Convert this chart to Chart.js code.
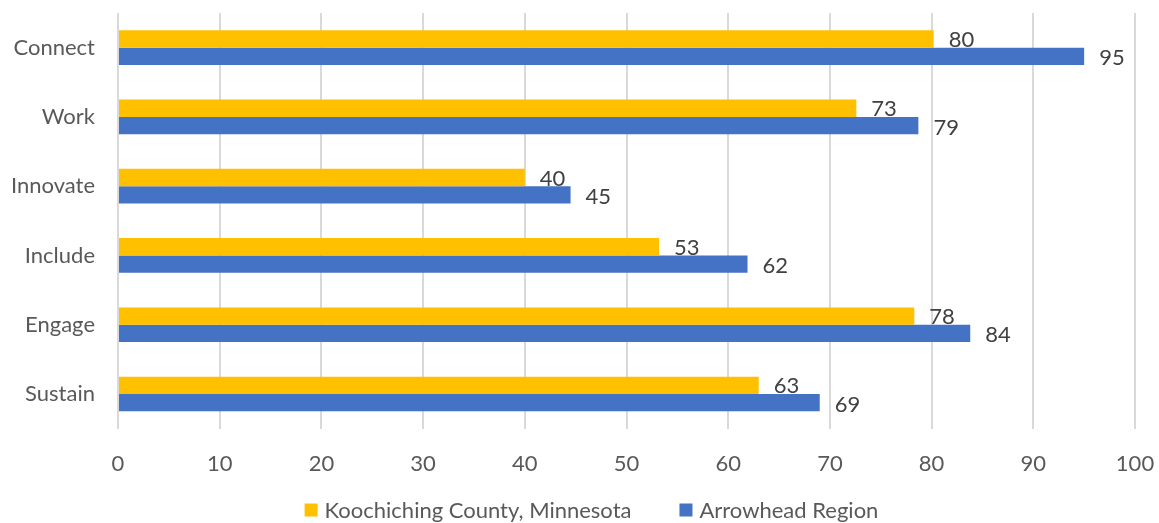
<!DOCTYPE html>
<html>
<head>
<meta charset="utf-8">
<script src="https://cdn.jsdelivr.net/npm/chart.js@4/dist/chart.umd.min.js"></script>
<style>
  html, body { margin: 0; padding: 0; background: #fff; }
  #wrap { width: 1159px; height: 523px; }
</style>
</head>
<body>
<div id="wrap"><canvas id="chart" width="1159" height="523"></canvas></div>
<script>
const categories = ["Connect", "Work", "Innovate", "Include", "Engage", "Sustain"];
const koochiching = [80.2, 72.6, 40.0, 53.2, 78.3, 63.0];
const arrowhead = [95.0, 78.7, 44.5, 61.9, 83.8, 69.0];
const xTicks = [0, 10, 20, 30, 40, 50, 60, 70, 80, 90, 100];

const FONT = "Lato, 'Open Sans', sans-serif";
const SIZE = 22;
const TEXT = "#595959";

// draws the value at the end of each bar
const barLabels = {
  id: "barLabels",
  afterDatasetsDraw(chart) {
    const ctx = chart.ctx;
    ctx.save();
    ctx.font = SIZE + "px " + FONT;
    ctx.fillStyle = "#404040";
    ctx.textBaseline = "middle";
    ctx.textAlign = "left";
    chart.data.datasets.forEach((ds, i) => {
      const meta = chart.getDatasetMeta(i);
      meta.data.forEach((bar, j) => {
        const dy = i === 0 ? 1 : 2;
        ctx.fillText(Math.round(ds.data[j]), bar.x + 15, bar.y + dy);
      });
    });
    ctx.restore();
  }
};

// legend under the x axis, like the office chart
const bottomLegend = {
  id: "bottomLegend",
  afterDraw(chart) {
    const ctx = chart.ctx;
    const y = 510;
    const box = 13, gap = 7, between = 48;
    ctx.save();
    ctx.font = SIZE + "px " + FONT;
    ctx.textBaseline = "middle";
    ctx.textAlign = "left";
    const items = chart.data.datasets.map(ds => ({
      text: ds.label,
      color: ds.backgroundColor,
      w: box + gap + ctx.measureText(ds.label).width
    }));
    const total = items.reduce((s, it) => s + it.w, 0) + between * (items.length - 1);
    let x = (chart.width - total) / 2 + 12;
    items.forEach(it => {
      ctx.fillStyle = it.color;
      ctx.fillRect(x, y - box / 2, box, box);
      ctx.fillStyle = TEXT;
      ctx.fillText(it.text, x + box + gap, y + 1);
      x += it.w + between;
    });
    ctx.restore();
  }
};

function noPad(axis) {
  axis.paddingTop = 0;
  axis.paddingBottom = 0;
  axis.paddingLeft = 0;
  axis.paddingRight = 0;
}

new Chart(document.getElementById("chart").getContext("2d"), {
  type: "bar",
  data: {
    labels: categories,
    datasets: [
      {
        label: "Koochiching County, Minnesota",
        data: koochiching,
        backgroundColor: "#FFC000",
        categoryPercentage: 0.5,
        barPercentage: 1.0
      },
      {
        label: "Arrowhead Region",
        data: arrowhead,
        backgroundColor: "#4472C4",
        categoryPercentage: 0.5,
        barPercentage: 1.0
      }
    ]
  },
  options: {
    indexAxis: "y",
    responsive: false,
    animation: false,
    layout: { padding: { top: 13, right: 24, left: 0, bottom: 24 } },
    scales: {
      x: {
        min: 0,
        max: 100,
        afterBuildTicks(axis) {
          axis.ticks = xTicks.map(v => ({ value: v }));
        },
        afterFit: noPad,
        grid: { color: "#D9D9D9", lineWidth: 2, drawTicks: false },
        border: { display: false },
        ticks: { color: TEXT, font: { family: FONT, size: SIZE }, padding: 22 }
      },
      y: {
        grid: { display: false, drawTicks: false },
        border: { display: false },
        ticks: { color: TEXT, font: { family: FONT, size: SIZE }, padding: 23 },
        afterFit(axis) { noPad(axis); axis.width = 118; }
      }
    },
    plugins: {
      legend: { display: false },
      tooltip: { enabled: false }
    }
  },
  plugins: [barLabels, bottomLegend]
});
</script>
</body>
</html>
